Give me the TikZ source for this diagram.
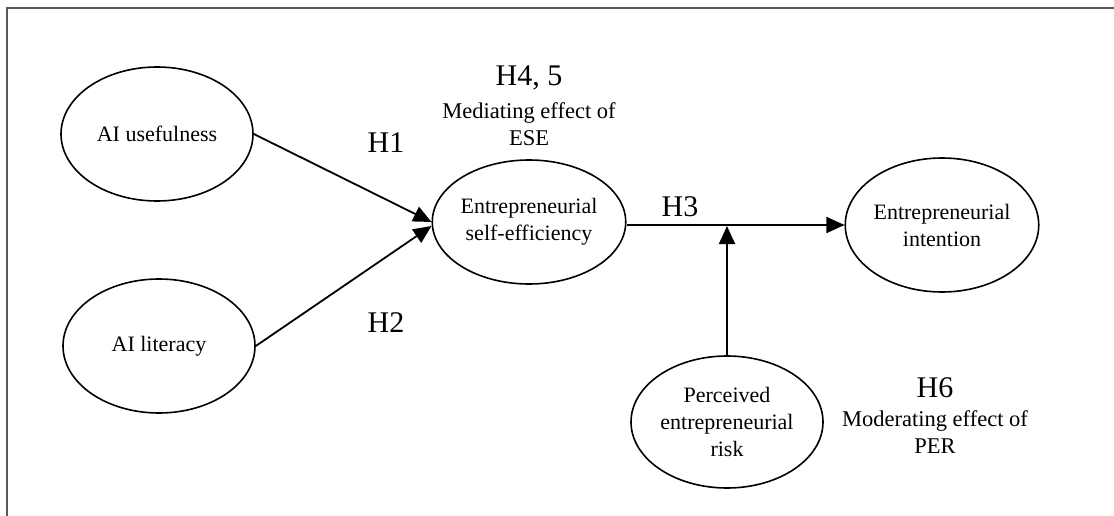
\documentclass[tikz,border=0pt]{standalone}
\usepackage{fontspec}
\setmainfont{Liberation Serif}
\usetikzlibrary{shapes.geometric,arrows.meta,calc}
\begin{document}
\begin{tikzpicture}[x=1pt,y=-1pt,
  construct/.style={draw=black,line width=1.6pt,ellipse,minimum width=192pt,minimum height=134pt,inner sep=0pt,align=center,font=\fontsize{22}{27}\selectfont},
  path/.style={draw=black,line width=1.8pt,-{Triangle[length=18pt,width=16pt]}},
  hyp/.style={font=\fontsize{30}{34}\selectfont,inner sep=0pt},
  note/.style={font=\fontsize{22.5}{27}\selectfont,align=center,inner sep=0pt}]
\useasboundingbox (0,0) rectangle (1114,516);
\draw[line width=2pt,draw=gray!70!black] (7,530) -- (7,8) -- (1120,8);
\node[construct] (use) at (157,134) {AI usefulness};
\node[construct] (lit) at (159,346) {AI literacy};
\node[construct,minimum height=124pt] (ese) at (529,222) {Entrepreneurial\\self-efficiency};
\node[construct] (int) at (942,225) {Entrepreneurial\\intention};
\node[construct,minimum height=132pt] (risk) at (727,422) {Perceived\\entrepreneurial\\risk};
\coordinate (junc) at (727,225);
\draw[path] (use.east) -- ($(ese.west)+(0,0)$);
\draw[path] (lit.east) -- ($(ese.west)+(0,4)$);
\draw[path] (ese.east |- junc) -- (int.west |- junc);
\draw[path] (risk.north) -- ($(junc)+(0,1)$);
\node[hyp] (h1) at (386,143) {H1};
\node[hyp] (h2) at (386,323) {H2};
\node[hyp] (h3) at (680,207) {H3};
\node[hyp] (h45) at (529,78) {H4, 5};
\node[note] (med) at (529,124) {Mediating effect of\\ESE};
\node[hyp] (h6) at (935,388) {H6};
\node[note] (mod) at (935,432) {Moderating effect of\\PER};
\end{tikzpicture}
\end{document}
